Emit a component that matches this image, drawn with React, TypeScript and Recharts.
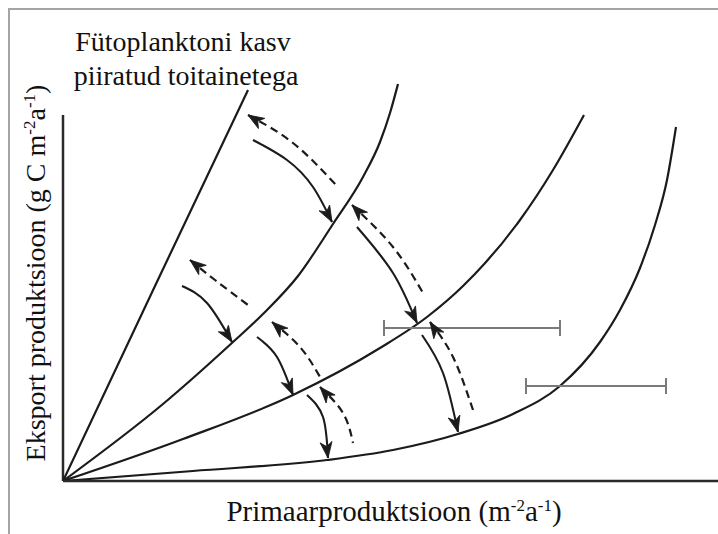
import { ComposedChart, Line, Scatter, ErrorBar, XAxis, YAxis, ReferenceLine } from 'recharts'

type Pt = { x: number; y: number }

// units: 1 unit = 1px, origin at the axes corner
const curveNutrient: Pt[] = [
  { x: 0, y: 0 }, { x: 92, y: 195 }, { x: 185, y: 391 },
]
const curveB: Pt[] = [
  { x: 0, y: 0 }, { x: 100, y: 77 }, { x: 170, y: 139 }, { x: 200, y: 167 }, { x: 235, y: 205 },
  { x: 270, y: 257 }, { x: 300, y: 304 }, { x: 317, y: 339 }, { x: 327, y: 368 }, { x: 335, y: 397 },
]
const curveC: Pt[] = [
  { x: 0, y: 0 }, { x: 120, y: 42 }, { x: 230, y: 86 }, { x: 317, y: 133 }, { x: 364, y: 164 },
  { x: 400, y: 195 }, { x: 457, y: 261 }, { x: 490, y: 311 }, { x: 521, y: 366 },
]
const curveD: Pt[] = [
  { x: 0, y: 0 }, { x: 130, y: 10 }, { x: 264, y: 21 }, { x: 330, y: 31 }, { x: 395, y: 47 },
  { x: 450, y: 67 }, { x: 497, y: 95 }, { x: 537, y: 139 }, { x: 557, y: 171 }, { x: 577, y: 213 },
  { x: 592, y: 256 }, { x: 604, y: 301 }, { x: 613, y: 354 },
]

// solid arrows point down (head at end), dashed point back up (head at start)
const solidA: Pt[] = [{ x: 190, y: 341 }, { x: 224, y: 321 }, { x: 250, y: 294 }, { x: 269, y: 259 }]
const dashA: Pt[] = [{ x: 185, y: 366 }, { x: 230, y: 338 }, { x: 273, y: 296 }]
const solidB: Pt[] = [{ x: 294, y: 254 }, { x: 330, y: 208 }, { x: 354, y: 158 }]
const dashB: Pt[] = [{ x: 289, y: 276 }, { x: 330, y: 234 }, { x: 360, y: 188 }]
const solidC: Pt[] = [{ x: 359, y: 146 }, { x: 380, y: 108 }, { x: 395, y: 49 }]
const dashC: Pt[] = [{ x: 367, y: 159 }, { x: 390, y: 124 }, { x: 410, y: 71 }]
const solidD: Pt[] = [{ x: 119, y: 195 }, { x: 144, y: 178 }, { x: 169, y: 139 }]
const dashD: Pt[] = [{ x: 127, y: 221 }, { x: 152, y: 201 }, { x: 185, y: 176 }]
const solidE: Pt[] = [{ x: 194, y: 144 }, { x: 214, y: 124 }, { x: 230, y: 86 }]
const dashE: Pt[] = [{ x: 209, y: 159 }, { x: 237, y: 134 }, { x: 257, y: 104 }]
const solidF: Pt[] = [{ x: 244, y: 86 }, { x: 260, y: 64 }, { x: 265, y: 23 }]
const dashF: Pt[] = [{ x: 257, y: 94 }, { x: 280, y: 68 }, { x: 290, y: 38 }]

const ranges = [
  { x: 409, y: 153, err: 88 },
  { x: 533, y: 95, err: 70 },
]

const yAxisTop = 366

const INK = '#1b1b1b'
const FONT = '"Liberation Serif", "Times New Roman", Times, serif'

function arrowHead(pts: Pt[], at: 'start' | 'end') {
  return (props: any) => {
    const { cx, cy, index } = props
    const i = at === 'end' ? pts.length - 1 : 0
    if (index !== i || cx == null) return <g key={`n-${index}`} />
    const q = at === 'end' ? pts[i - 1] : pts[1]
    const p = pts[i]
    const deg = (Math.atan2(-(p.y - q.y), p.x - q.x) * 180) / Math.PI
    return (
      <polygon
        key={`h-${index}`}
        points="0,0 -16,-6 -11.5,0 -16,6"
        fill={INK}
        stroke={INK}
        strokeWidth={0.8}
        transform={`translate(${cx},${cy}) rotate(${deg})`}
      />
    )
  }
}

const solids = [solidA, solidB, solidC, solidD, solidE, solidF]
const dashes = [dashA, dashB, dashC, dashD, dashE, dashF]

export default function App() {
  return (
    <div
      style={{
        position: 'fixed', left: 8, top: 8, width: 710, height: 526, overflow: 'hidden',
        borderTop: '2px solid #a5a5a5', borderLeft: '2px solid #a5a5a5', background: '#fff',
        fontFamily: FONT,
      }}
    >
      <ComposedChart width={708} height={524} margin={{ top: 20, right: 0, left: 53, bottom: 23 }}>
        <XAxis
          type="number" dataKey="x" domain={[0, 655]} allowDataOverflow
          tick={false} tickLine={false} height={30}
          axisLine={{ stroke: '#2a2a2a', strokeWidth: 2.5 }}
        />
        <YAxis type="number" dataKey="y" domain={[0, 451]} allowDataOverflow hide />
        <ReferenceLine
          segment={[{ x: 0, y: 0 }, { x: 0, y: yAxisTop }]}
          stroke="#2a2a2a" strokeWidth={2.5}
        />
        {[curveNutrient, curveB, curveC, curveD].map((c, i) => (
          <Line
            key={`c${i}`} data={c} dataKey="y" type="monotone" stroke={INK} strokeWidth={2.2}
            dot={false} activeDot={false} isAnimationActive={false}
          />
        ))}
        {solids.map((a, i) => (
          <Line
            key={`s${i}`} data={a} dataKey="y" type="natural" stroke={INK} strokeWidth={2.1}
            dot={arrowHead(a, 'end')} activeDot={false} isAnimationActive={false}
          />
        ))}
        {dashes.map((a, i) => (
          <Line
            key={`d${i}`} data={a} dataKey="y" type="natural" stroke={INK} strokeWidth={2.2}
            strokeDasharray="8 5" dot={arrowHead(a, 'start')} activeDot={false} isAnimationActive={false}
          />
        ))}
        <Scatter data={ranges} shape={() => <g />} isAnimationActive={false}>
          <ErrorBar dataKey="err" direction="x" width={8} stroke="#7a7a7a" strokeWidth={2} />
        </Scatter>
        <g fontFamily={FONT} fill="#111">
          <text textAnchor="middle" fontSize={28} fontFamily={FONT}>
            <tspan x={173} y={41} fontFamily={FONT}>Fütoplanktoni kasv</tspan>
            <tspan x={176} y={75} fontFamily={FONT}>piiratud toitainetega</tspan>
          </text>
          <text x={384} y={511} textAnchor="middle" fontSize={29} fontFamily={FONT}>
            Primaarproduktsioon (m<tspan dy={-10} fontSize={17}>-2</tspan>
            <tspan dy={10}>a</tspan>
            <tspan dy={-10} fontSize={17}>-1</tspan>
            <tspan dy={10}>)</tspan>
          </text>
          <text
            x={35} y={263} textAnchor="middle" fontSize={28} fontFamily={FONT}
            transform="rotate(-90, 35, 263)"
          >
            Eksport produktsioon (g C m<tspan dy={-10} fontSize={17}>-2</tspan>
            <tspan dy={10}>a</tspan>
            <tspan dy={-10} fontSize={17}>-1</tspan>
            <tspan dy={10}>)</tspan>
          </text>
        </g>
      </ComposedChart>
    </div>
  )
}
